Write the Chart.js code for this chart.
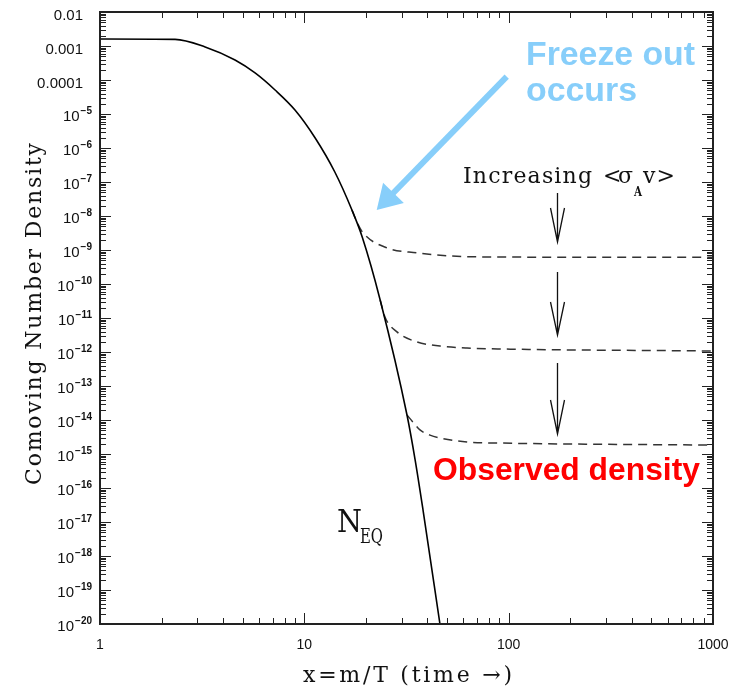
<!DOCTYPE html>
<html>
<head>
<meta charset="utf-8">
<script src="https://cdn.jsdelivr.net/npm/chart.js@4.4.1/dist/chart.umd.min.js"></script>
<style>
  html, body { margin: 0; padding: 0; background: #fff; }
</style>
</head>
<body>
<canvas id="myChart" width="739" height="688"></canvas>
<script>
  // equilibrium number density N_EQ
  const eqX = [1, 2.33, 3.27, 4.58, 5.74, 7.19, 9.0, 11.3, 14.1, 17.1, 19.2, 23.5, 31.8, 34.8, 38.1, 46.1];
  const eqY = [1.61e-3, 1.57e-3, 9.35e-4, 3.87e-4, 1.61e-4, 5.08e-5, 1.31e-5, 1.97e-6, 1.97e-7,
               1.5e-8, 2.4e-9, 3.4e-11, 1.4e-14, 7.1e-16, 2.25e-17, 1e-20];

  // freeze-out curves, weakest to strongest <sigma v>
  const f1X = [17.1, 18.1, 19.4, 25.4, 35.6, 51.7, 90.8, 1000];
  const f1Y = [1.5e-8, 6.5e-9, 3.16e-9, 1.15e-9, 8.2e-10, 6.7e-10, 6.2e-10, 6.1e-10];
  const f2X = [23.5, 24.8, 28.4, 35.6, 46.1, 62.5, 90.8, 1000];
  const f2Y = [3.4e-11, 1.07e-11, 3.9e-12, 1.97e-12, 1.5e-12, 1.31e-12, 1.23e-12, 1.07e-12];
  const f3X = [31.8, 34.0, 36.8, 41.2, 46.1, 62.5, 90.8, 1000];
  const f3Y = [1.4e-14, 8.7e-15, 5.1e-15, 3.6e-15, 2.95e-15, 2.25e-15, 2.1e-15, 1.83e-15];

  const xTicks = [1, 10, 100, 1000];
  const yTicks = [1e-2, 1e-3, 1e-4, 1e-5, 1e-6, 1e-7, 1e-8, 1e-9, 1e-10, 1e-11, 1e-12,
                  1e-13, 1e-14, 1e-15, 1e-16, 1e-17, 1e-18, 1e-19, 1e-20];

  const pts = (xs, ys) => xs.map((v, i) => ({ x: v, y: ys[i] }));

  // letter-spaced text, left edge x, filling width w
  function spaced(ctx, text, x, y, w) {
    const chars = [...text];
    const ws = chars.map(c => ctx.measureText(c).width);
    const total = ws.reduce((s, v) => s + v, 0);
    const gap = chars.length > 1 ? (w - total) / (chars.length - 1) : 0;
    let cx = x;
    chars.forEach((c, i) => { ctx.fillText(c, cx, y); cx += ws[i] + gap; });
  }
  // text scaled horizontally to width w
  function fitted(ctx, text, x, y, w) {
    const m = ctx.measureText(text).width;
    ctx.save();
    ctx.translate(x, y);
    ctx.scale(w / m, 1);
    ctx.fillText(text, 0, 0);
    ctx.restore();
  }
  function downArrow(ctx, x, y0, yHead, y1) {
    ctx.beginPath();
    ctx.moveTo(x, y0); ctx.lineTo(x, y1);
    ctx.moveTo(x - 7, yHead); ctx.lineTo(x, y1); ctx.lineTo(x + 7, yHead);
    ctx.stroke();
  }

  const deco = {
    id: 'deco',
    afterDatasetsDraw(chart) {
      const { ctx, chartArea: a, scales: { x, y } } = chart;
      ctx.save();

      // inner ticks on all four sides
      ctx.strokeStyle = '#222';
      ctx.lineWidth = 1;
      ctx.beginPath();
      for (let e = 0; e < 3; e++) {
        for (let m = 1; m < 10; m++) {
          const px = Math.round(x.getPixelForValue(m * Math.pow(10, e))) + 0.5;
          const len = m === 1 ? 11 : 6;
          ctx.moveTo(px, a.bottom); ctx.lineTo(px, a.bottom - len);
          ctx.moveTo(px, a.top); ctx.lineTo(px, a.top + len);
        }
      }
      for (let e = -20; e < -2; e++) {
        for (let m = 1; m < 10; m++) {
          const py = Math.round(y.getPixelForValue(m * Math.pow(10, e))) + 0.5;
          const len = m === 1 ? 11 : 6;
          ctx.moveTo(a.left, py); ctx.lineTo(a.left + len, py);
          ctx.moveTo(a.right, py); ctx.lineTo(a.right - len, py);
        }
      }
      ctx.stroke();

      // frame
      ctx.lineWidth = 2;
      ctx.strokeRect(a.left, a.top, a.right - a.left, a.bottom - a.top);

      // y tick labels: decimals, then 10 with a raised exponent
      ctx.fillStyle = '#111';
      ctx.textBaseline = 'alphabetic';
      ctx.textAlign = 'right';
      yTicks.forEach(v => {
        const py = y.getPixelForValue(v);
        const e = Math.round(Math.log10(v));
        if (e >= -4) {
          ctx.font = '15px "Liberation Sans"';
          ctx.fillText(v.toFixed(-e), a.left - 17, py + 8);
        } else {
          const ex = '\u2212' + String(-e);
          ctx.font = 'bold 10px "Liberation Sans"';
          const ew = ctx.measureText(ex).width;
          ctx.fillText(ex, a.left - 8, py);
          ctx.font = '15px "Liberation Sans"';
          ctx.fillText('10', a.left - 9 - ew, py + 7);
        }
      });

      // axis titles
      ctx.textAlign = 'left';
      ctx.font = '22px "DejaVu Serif"';
      spaced(ctx, 'x=m/T (time \u2192)', 303, 682, 209);
      ctx.save();
      ctx.translate(41, 485);
      ctx.rotate(-Math.PI / 2);
      spaced(ctx, 'Comoving Number Density', 0, 0, 342);
      ctx.restore();

      // N_EQ label
      ctx.font = '32px "DejaVu Serif"';
      fitted(ctx, 'N', 337, 532, 25);
      ctx.font = '21px "DejaVu Serif"';
      fitted(ctx, 'EQ', 360, 543, 23);

      // Increasing <sigma_A v>
      ctx.font = '22px "DejaVu Serif"';
      spaced(ctx, 'Increasing', 463, 183, 129);
      spaced(ctx, '<\u03C3', 603, 183, 30);
      spaced(ctx, 'v>', 643, 183, 32);
      ctx.font = 'bold 12px "DejaVu Serif"';
      fitted(ctx, 'A', 634, 196, 8);

      ctx.strokeStyle = '#111';
      ctx.lineWidth = 1.3;
      downArrow(ctx, 557.5, 193, 208, 242);
      downArrow(ctx, 557.5, 272, 302, 335);
      downArrow(ctx, 557.5, 363, 400, 434);

      // freeze out annotation
      const blue = '#87cefa';
      ctx.fillStyle = blue;
      ctx.font = 'bold 33px "Liberation Sans"';
      fitted(ctx, 'Freeze out', 526, 65, 169);
      fitted(ctx, 'occurs', 526, 101, 111);
      const tx = 376.7, ty = 210, sx = 506.7, sy = 76.7;
      const d = Math.hypot(tx - sx, ty - sy);
      const ux = (tx - sx) / d, uy = (ty - sy) / d;
      const bx = tx - ux * 24, by = ty - uy * 24;
      ctx.strokeStyle = blue;
      ctx.lineWidth = 6;
      ctx.beginPath();
      ctx.moveTo(sx, sy); ctx.lineTo(bx + ux * 2, by + uy * 2);
      ctx.stroke();
      ctx.beginPath();
      ctx.moveTo(tx, ty);
      ctx.lineTo(bx - uy * 14.5, by + ux * 14.5);
      ctx.lineTo(bx + uy * 14.5, by - ux * 14.5);
      ctx.closePath();
      ctx.fill();

      // observed density
      ctx.fillStyle = '#ff0000';
      ctx.font = 'bold 32px "Liberation Sans"';
      fitted(ctx, 'Observed density', 433, 480, 267);

      ctx.restore();
    }
  };

  const dashed = { borderColor: '#333', borderWidth: 1.5, borderDash: [9, 6], pointRadius: 0,
                   cubicInterpolationMode: 'monotone', fill: false };

  const config = {
    type: 'line',
    data: {
      datasets: [
        { label: 'N_EQ', data: pts(eqX, eqY), borderColor: '#000', borderWidth: 1.6,
          pointRadius: 0, cubicInterpolationMode: 'monotone', fill: false },
        Object.assign({ label: 'freeze 1', data: pts(f1X, f1Y) }, dashed),
        Object.assign({ label: 'freeze 2', data: pts(f2X, f2Y) }, dashed),
        Object.assign({ label: 'freeze 3', data: pts(f3X, f3Y) }, dashed)
      ]
    },
    options: {
      responsive: false,
      animation: false,
      layout: { padding: { left: 0, right: 26, top: 12, bottom: 0 } },
      plugins: { legend: { display: false }, tooltip: { enabled: false } },
      scales: {
        x: {
          type: 'logarithmic', min: 1, max: 1000,
          grid: { display: false, drawTicks: false },
          border: { display: false },
          afterBuildTicks: s => { s.ticks = xTicks.map(v => ({ value: v })); },
          afterFit: s => { s.height = 64; s.paddingLeft = 0; s.paddingRight = 0; },
          ticks: { autoSkip: false, maxRotation: 0, padding: 13, color: '#111',
                   font: { family: 'Liberation Sans', size: 14 },
                   callback: v => String(v) }
        },
        y: {
          type: 'logarithmic', min: 1e-20, max: 1e-2,
          grid: { display: false, drawTicks: false },
          border: { display: false },
          afterBuildTicks: s => { s.ticks = yTicks.map(v => ({ value: v })); },
          afterFit: s => { s.width = 100; s.paddingTop = 0; s.paddingBottom = 0; },
          ticks: { display: false }
        }
      }
    },
    plugins: [deco]
  };

  const myChart = new Chart(document.getElementById('myChart'), config);
</script>
</body>
</html>
